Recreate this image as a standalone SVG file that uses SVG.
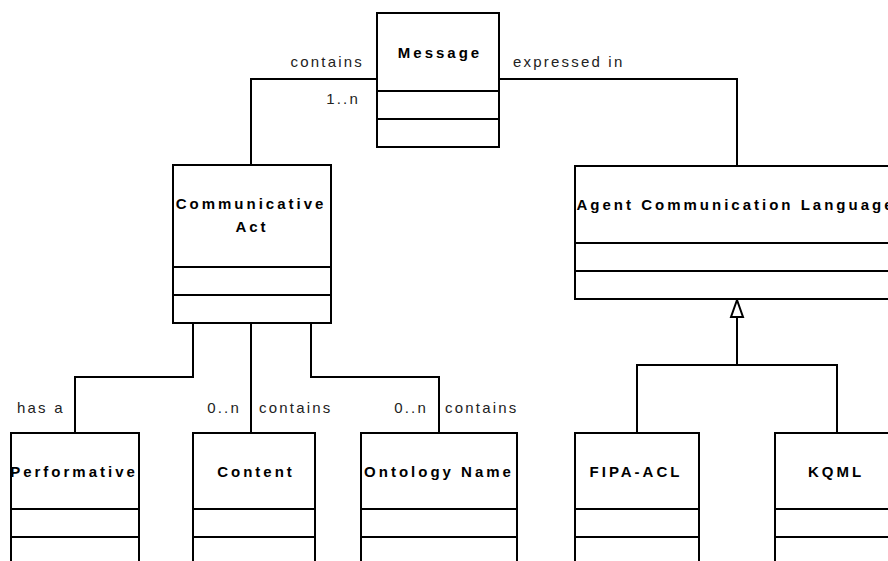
<svg xmlns="http://www.w3.org/2000/svg" width="888" height="561" viewBox="0 0 888 561">
<defs>
<style>
.box{fill:#fff;stroke:#000;stroke-width:2}
.div{stroke:#000;stroke-width:2}
.conn{fill:none;stroke:#000;stroke-width:2}
.title{font-family:"Liberation Sans",Arial,sans-serif;font-size:15px;font-weight:bold;letter-spacing:3px;fill:#000}
.lbl{font-family:"Liberation Sans",Arial,sans-serif;font-size:15px;letter-spacing:2.2px;fill:#222}
</style>
</defs>
<rect width="888" height="561" fill="#fff"/>
<g id="connectors">
<polyline class="conn" points="377,79 251,79 251,165"/>
<polyline class="conn" points="499,79 737,79 737,166"/>
<polyline class="conn" points="193,323 193,377 75,377 75,433"/>
<polyline class="conn" points="251,323 251,433"/>
<polyline class="conn" points="311,323 311,377 439,377 439,433"/>
<polyline class="conn" points="637,433 637,365 837,365 837,433"/>
<polyline class="conn" points="737,365 737,317"/>
<polygon class="box" points="737,300 731,317 743,317"/>
<text class="lbl" x="364" y="67" text-anchor="end">contains</text>
<text class="lbl" x="360" y="104" text-anchor="end">1..n</text>
<text class="lbl" x="513" y="67">expressed in</text>
<text class="lbl" x="17" y="413">has a</text>
<text class="lbl" x="241" y="413" text-anchor="end">0..n</text>
<text class="lbl" x="259" y="413">contains</text>
<text class="lbl" x="428" y="413" text-anchor="end">0..n</text>
<text class="lbl" x="445" y="413">contains</text>
</g>
<g id="message">
<rect class="box" x="377" y="13" width="122" height="134"/>
<line class="div" x1="377" y1="91" x2="499" y2="91"/>
<line class="div" x1="377" y1="119" x2="499" y2="119"/>
<text class="title" x="440" y="58" text-anchor="middle">Message</text>
</g>
<g id="communicative-act">
<rect class="box" x="173" y="165" width="158" height="158"/>
<line class="div" x1="173" y1="267" x2="331" y2="267"/>
<line class="div" x1="173" y1="295" x2="331" y2="295"/>
<text class="title" x="251" y="209" text-anchor="middle">Communicative</text>
<text class="title" x="252" y="232" text-anchor="middle">Act</text>
</g>
<g id="agent-communication-language">
<rect class="box" x="575" y="166" width="324" height="133"/>
<line class="div" x1="575" y1="243" x2="899" y2="243"/>
<line class="div" x1="575" y1="271" x2="899" y2="271"/>
<text class="title" x="736" y="210" text-anchor="middle">Agent Communication Language</text>
</g>
<g id="performative">
<rect class="box" x="11" y="433" width="128" height="150"/>
<line class="div" x1="11" y1="509" x2="139" y2="509"/>
<line class="div" x1="11" y1="537" x2="139" y2="537"/>
<text class="title" x="74" y="477" text-anchor="middle">Performative</text>
</g>
<g id="content">
<rect class="box" x="193" y="433" width="122" height="150"/>
<line class="div" x1="193" y1="509" x2="315" y2="509"/>
<line class="div" x1="193" y1="537" x2="315" y2="537"/>
<text class="title" x="256" y="477" text-anchor="middle">Content</text>
</g>
<g id="ontology-name">
<rect class="box" x="361" y="433" width="156" height="150"/>
<line class="div" x1="361" y1="509" x2="517" y2="509"/>
<line class="div" x1="361" y1="537" x2="517" y2="537"/>
<text class="title" x="439" y="477" text-anchor="middle">Ontology Name</text>
</g>
<g id="fipa-acl">
<rect class="box" x="575" y="433" width="124" height="150"/>
<line class="div" x1="575" y1="509" x2="699" y2="509"/>
<line class="div" x1="575" y1="537" x2="699" y2="537"/>
<text class="title" x="636" y="477" text-anchor="middle">FIPA-ACL</text>
</g>
<g id="kqml">
<rect class="box" x="775" y="433" width="124" height="150"/>
<line class="div" x1="775" y1="509" x2="899" y2="509"/>
<line class="div" x1="775" y1="537" x2="899" y2="537"/>
<text class="title" x="836" y="477" text-anchor="middle">KQML</text>
</g>
</svg>
